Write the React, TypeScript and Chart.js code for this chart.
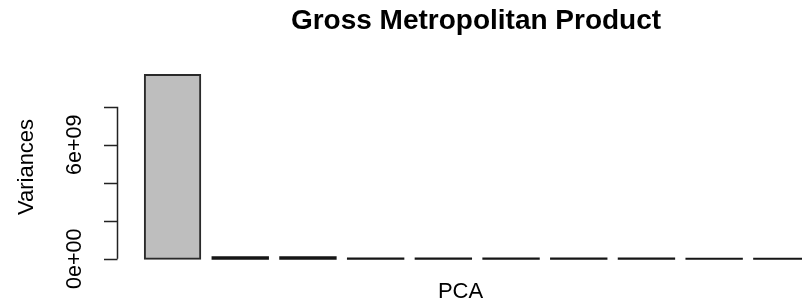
import { useEffect, useRef } from "react";
import { Chart, registerables } from "chart.js";

Chart.register(...registerables);

const components = ["PC1", "PC2", "PC3", "PC4", "PC5", "PC6", "PC7", "PC8", "PC9", "PC10"];
const variances = [9.67e9, 8e7, 7e7, 1e7, 8e6, 6e6, 5e6, 4e6, 3e6, 2e6];
const yTicks = [0, 2e9, 4e9, 6e9, 8e9];
const yTickLabels = ["0e+00", "", "", "6e+09", ""];
const chartTitle = "Gross Metropolitan Product";
const xTitle = "PCA";
const yTitle = "Variances";

const FONT = '"Liberation Sans", Arial, sans-serif';

const rAxesPlugin = {
  id: "rAxes",
  afterDraw(chart: any) {
    const ctx = chart.ctx as CanvasRenderingContext2D;
    const ys = chart.scales.y;
    const axisX = 117.5;
    ctx.save();
    ctx.strokeStyle = "#222";
    ctx.lineWidth = 1.5;
    ctx.beginPath();
    ctx.moveTo(axisX, ys.getPixelForValue(yTicks[0]));
    ctx.lineTo(axisX, ys.getPixelForValue(yTicks[yTicks.length - 1]));
    for (const t of yTicks) {
      const py = Math.round(ys.getPixelForValue(t)) + 0.5;
      ctx.moveTo(104, py);
      ctx.lineTo(axisX, py);
    }
    ctx.stroke();

    ctx.fillStyle = "#000";
    ctx.font = `21.5px ${FONT}`;
    ctx.textAlign = "center";
    ctx.textBaseline = "alphabetic";
    yTicks.forEach((t, i) => {
      const lab = yTickLabels[i];
      if (!lab) return;
      ctx.save();
      ctx.translate(81, ys.getPixelForValue(t));
      ctx.rotate(-Math.PI / 2);
      ctx.fillText(lab, 0, 0);
      ctx.restore();
    });

    ctx.font = `22px ${FONT}`;
    ctx.save();
    ctx.translate(33, 167);
    ctx.rotate(-Math.PI / 2);
    ctx.fillText(yTitle, 0, 0);
    ctx.restore();

    ctx.fillText(xTitle, 460.5, 298);

    ctx.font = `bold 28px ${FONT}`;
    ctx.fillText(chartTitle, 476, 29);
    ctx.restore();
  },
};

export default function App() {
  const ref = useRef<HTMLCanvasElement | null>(null);

  useEffect(() => {
    if (!ref.current) return;
    const maxV = Math.max(...variances);
    const isThin = (v: number) => v / maxV < 0.02;
    const chart = new Chart(ref.current, {
      type: "bar",
      data: {
        labels: components,
        datasets: [
          {
            data: variances,
            backgroundColor: variances.map((v) => (isThin(v) ? "#151515" : "#BEBEBE")),
            borderColor: "#2a2a2a",
            borderWidth: variances.map((v) => (isThin(v) ? 0 : 2)),
            borderSkipped: false,
            inflateAmount: 1,
            categoryPercentage: 1,
            barPercentage: 0.818,
            clip: false,
          } as any,
        ],
      },
      options: {
        animation: false,
        responsive: false,
        layout: { padding: { left: 138.7, right: 14.3, top: 68.7, bottom: 47.3 } },
        plugins: { legend: { display: false }, title: { display: false }, tooltip: { enabled: false } },
        scales: {
          x: { display: false, offset: true },
          y: { display: false, min: 0, max: 1e10 },
        },
      },
      plugins: [rAxesPlugin],
    });
    return () => chart.destroy();
  }, []);

  return (
    <div
      style={{
        position: "fixed",
        left: 0,
        top: 0,
        width: 802,
        height: 306,
        overflow: "hidden",
        background: "#fff",
      }}
    >
      <canvas ref={ref} width={830} height={306} style={{ display: "block", width: 830, height: 306 }} />
    </div>
  );
}
